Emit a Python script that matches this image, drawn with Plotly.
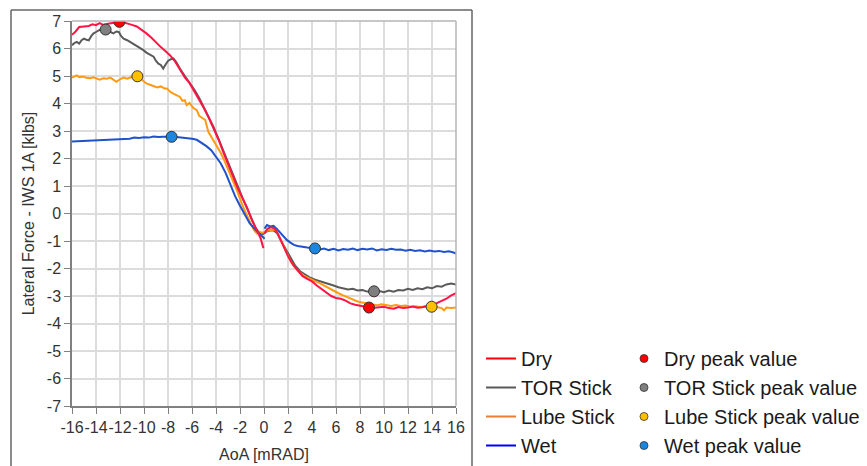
import plotly.graph_objects as go

# ---------------- data ----------------
dry_x = [-16.0, -15.7, -15.4, -15.0, -14.6, -14.3, -14.0, -13.7, -13.4, -13.0, -12.6, -12.3, -12.05,
         -11.7, -11.4, -11.0, -10.6, -10.2, -9.8, -9.4, -9.0, -8.6, -8.2, -7.8, -7.4, -7.0, -6.6, -6.2,
         -5.8, -5.4, -5.0, -4.6, -4.2, -3.8, -3.4, -3.0, -2.6, -2.2, -1.8, -1.4, -1.0, -0.6, -0.3, -0.05,
         None,
         0.05, 0.3, 0.6, 0.9, 1.2, 1.6, 2.0, 2.4, 2.8, 3.2, 3.6, 4.0, 4.4, 4.8, 5.2, 5.6, 6.0, 6.4, 6.8,
         7.2, 7.6, 8.0, 8.4, 8.75, 9.2, 9.6, 10.0, 10.4, 10.8, 11.2, 11.6, 12.0, 12.4, 12.8, 13.2, 13.6,
         14.0, 14.4, 14.8, 15.2, 15.6, 16.0]
dry_y = [6.50, 6.62, 6.78, 6.80, 6.82, 6.88, 6.85, 6.92, 6.86, 6.90, 6.92, 6.96, 6.97,
         6.95, 6.90, 6.86, 6.80, 6.68, 6.55, 6.40, 6.22, 6.05, 5.90, 5.74, 5.52, 5.22, 4.95, 4.74,
         4.45, 4.16, 3.83, 3.48, 3.10, 2.70, 2.24, 1.78, 1.34, 0.93, 0.56, 0.20, -0.25, -0.62, -0.88, -1.26,
         None,
         -0.72, -0.55, -0.50, -0.55, -0.78, -1.20, -1.55, -1.85, -2.08, -2.27, -2.38, -2.47, -2.62, -2.75,
         -2.88, -3.00, -3.07, -3.10, -3.17, -3.27, -3.32, -3.36, -3.40, -3.42, -3.43, -3.41, -3.39, -3.44,
         -3.46, -3.40, -3.44, -3.42, -3.38, -3.43, -3.41, -3.36, -3.33, -3.26, -3.19, -3.10, -2.98, -2.90]

tor_x = [-16.0, -15.8, -15.6, -15.4, -15.2, -15.0, -14.8, -14.6, -14.4, -14.2, -14.0, -13.7, -13.4,
         -13.2, -13.0, -12.8, -12.55, -12.3, -12.1, -11.9, -11.7, -11.4, -11.1, -10.9, -10.6, -10.3,
         -10.05, -9.8, -9.5, -9.2, -9.0, -8.8, -8.6, -8.4, -8.2, -8.0, -7.8, -7.55, -7.3, -7.0, -6.6,
         -6.2, -5.8, -5.4, -5.0, -4.6, -4.2, -3.8, -3.4, -3.0, -2.6, -2.2, -1.8, -1.4, -1.0, -0.7, -0.4,
         -0.1, 0.2, 0.5, 0.8, 1.1, 1.4, 1.8, 2.2, 2.6, 3.0, 3.4, 3.8, 4.2, 4.6, 5.0, 5.4, 5.8, 6.2, 6.6,
         7.0, 7.4, 7.8, 8.2, 8.6, 9.17, 9.6, 10.0, 10.4, 10.8, 11.2, 11.6, 12.0, 12.4, 12.8, 13.2, 13.6,
         14.0, 14.4, 14.8, 15.2, 15.6, 16.0]
tor_y = [6.12, 6.20, 6.24, 6.18, 6.30, 6.36, 6.32, 6.30, 6.45, 6.55, 6.60, 6.68, 6.72,
         6.69, 6.64, 6.60, 6.55, 6.62, 6.60, 6.45, 6.36, 6.30, 6.22, 6.18, 6.10, 6.02,
         5.94, 5.85, 5.78, 5.70, 5.55, 5.45, 5.40, 5.27, 5.42, 5.55, 5.60, 5.64, 5.50, 5.26, 5.00,
         4.76, 4.50, 4.20, 3.86, 3.50, 3.14, 2.72, 2.28, 1.84, 1.40, 0.98, 0.58, 0.18, -0.20, -0.52, -0.70,
         -0.75, -0.66, -0.62, -0.62, -0.72, -0.98, -1.28, -1.62, -1.90, -2.10, -2.22, -2.32, -2.40, -2.45,
         -2.50, -2.55, -2.62, -2.68, -2.72, -2.76, -2.74, -2.80, -2.78, -2.84, -2.83, -2.82, -2.86, -2.80,
         -2.84, -2.78, -2.80, -2.74, -2.78, -2.72, -2.75, -2.68, -2.72, -2.64, -2.66, -2.58, -2.55, -2.58]

lube_x = [-16.0, -15.8, -15.6, -15.4, -15.1, -14.8, -14.5, -14.2, -13.9, -13.7, -13.4, -13.1, -12.8,
          -12.5, -12.3, -12.0, -11.7, -11.4, -11.1, -10.8, -10.55, -10.3, -10.0, -9.8, -9.5, -9.2, -8.9,
          -8.6, -8.3, -8.1, -7.8, -7.55, -7.3, -7.0, -6.8, -6.6, -6.45, -6.2, -5.9, -5.6, -5.4, -5.1, -4.9,
          -4.64, -4.4, -4.2, -3.9, -3.6, -3.3, -3.0, -2.6, -2.2, -1.8, -1.4, -1.1, -0.8, -0.6, -0.4, -0.2,
          0.0, 0.3, 0.6, 0.9, 1.1, 1.4, 1.8, 2.2, 2.6, 3.0, 3.4, 3.8, 4.2, 4.6, 5.0, 5.4, 5.8, 6.2, 6.6,
          7.0, 7.4, 7.8, 8.2, 8.6, 9.0, 9.4, 9.8, 10.2, 10.6, 11.0, 11.4, 11.8, 12.2, 12.6, 13.0, 13.4,
          13.97, 14.4, 14.8, 15.0, 15.2, 15.6, 16.0]
lube_y = [4.94, 4.98, 5.02, 4.96, 4.98, 4.94, 4.92, 4.95, 4.90, 4.87, 4.92, 4.90, 4.94,
          4.85, 4.79, 4.88, 4.94, 4.90, 4.96, 5.00, 4.99, 4.90, 4.80, 4.73, 4.68, 4.62, 4.58,
          4.62, 4.55, 4.55, 4.42, 4.36, 4.30, 4.24, 4.10, 4.12, 3.94, 4.02, 3.84, 3.76, 3.55, 3.46, 3.40,
          2.97, 2.80, 2.67, 2.45, 2.20, 1.92, 1.62, 1.22, 0.78, 0.30, -0.10, -0.38, -0.62, -0.72, -0.66, -0.70,
          -0.68, -0.62, -0.60, -0.58, -0.68, -0.98, -1.35, -1.72, -1.98, -2.16, -2.28, -2.38, -2.45, -2.52,
          -2.62, -2.72, -2.82, -2.90, -2.98, -3.06, -3.14, -3.20, -3.24, -3.28, -3.31, -3.34, -3.30, -3.32,
          -3.36, -3.33, -3.36, -3.35, -3.39, -3.37, -3.40, -3.38, -3.39, -3.40, -3.44, -3.52, -3.42, -3.44, -3.42]

wet_x = [-16.0, -15.6, -15.2, -14.8, -14.4, -14.0, -13.6, -13.2, -12.8, -12.4, -12.0, -11.6, -11.2,
         -10.8, -10.4, -10.0, -9.6, -9.2, -8.8, -8.4, -8.0, -7.7, -7.3, -7.0, -6.5, -6.0, -5.6, -5.2,
         -4.8, -4.4, -4.0, -3.6, -3.2, -2.8, -2.4, -2.0, -1.6, -1.2, -0.8, -0.4, 0.05,
         None,
         0.05, 0.25, 0.5, 0.8, 1.05, 1.3, 1.6, 1.9, 2.2, 2.5, 2.8, 3.2, 3.6, 4.0, 4.25, 4.6, 5.0, 5.4,
         5.8, 6.2, 6.6, 7.0, 7.4, 7.8, 8.2, 8.6, 9.0, 9.4, 9.8, 10.2, 10.6, 11.0, 11.4, 11.8, 12.2, 12.6,
         13.0, 13.4, 13.8, 14.2, 14.6, 15.0, 15.4, 15.8, 16.0]
wet_y = [2.62, 2.63, 2.64, 2.64, 2.66, 2.65, 2.68, 2.67, 2.70, 2.69, 2.71, 2.73, 2.72,
         2.76, 2.75, 2.77, 2.76, 2.80, 2.78, 2.79, 2.80, 2.79, 2.78, 2.77, 2.75, 2.72, 2.68, 2.58,
         2.45, 2.30, 2.05, 1.82, 1.48, 1.05, 0.62, 0.28, -0.05, -0.35, -0.55, -0.74, -0.92,
         None,
         -0.55, -0.42, -0.47, -0.45, -0.55, -0.68, -0.82, -0.96, -1.06, -1.14, -1.18, -1.22, -1.24, -1.26,
         -1.27, -1.32, -1.27, -1.33, -1.28, -1.34, -1.29, -1.32, -1.27, -1.33, -1.28, -1.31, -1.27, -1.34,
         -1.30, -1.33, -1.28, -1.32, -1.31, -1.35, -1.32, -1.36, -1.34, -1.38, -1.35, -1.38, -1.36, -1.40,
         -1.37, -1.42, -1.46]

# peak values (one on each side of zero)
dry_peak_x = [-12.05, 8.75]
dry_peak_y = [6.97, -3.42]
tor_peak_x = [-13.2, 9.17]
tor_peak_y = [6.69, -2.83]
lube_peak_x = [-10.55, 13.97]
lube_peak_y = [4.99, -3.39]
wet_peak_x = [-7.7, 4.25]
wet_peak_y = [2.79, -1.27]

x_ticks = list(range(-16, 17, 2))
x_tick_text = [str(v) for v in x_ticks]
y_ticks = list(range(-7, 8, 1))
y_tick_text = [str(v) for v in y_ticks]

series_names = ["Dry", "TOR Stick", "Lube Stick", "Wet"]
line_colors = ["#ff1446", "#5a5a5a", "#ff9a12", "#1f52cc"]
legend_line_colors = ["#ff0000", "#595959", "#ed7d31", "#0000ff"]
peak_colors = ["#ff0000", "#7f7f7f", "#ffc000", "#1a86e0"]

FONT = "Liberation Sans, Arial, sans-serif"

fig = go.Figure()

lines = [(dry_x, dry_y), (tor_x, tor_y), (lube_x, lube_y), (wet_x, wet_y)]
peaks = [(dry_peak_x, dry_peak_y), (tor_peak_x, tor_peak_y),
         (lube_peak_x, lube_peak_y), (wet_peak_x, wet_peak_y)]

# drawing order: TOR, Lube, Wet, Dry (Dry on top)
for i in [1, 2, 3, 0]:
    xs, ys = lines[i]
    fig.add_trace(go.Scatter(x=xs, y=ys, mode="lines", line=dict(color=line_colors[i], width=2),
                             connectgaps=False, showlegend=False, hoverinfo="skip"))

for (xs, ys), c in zip(peaks, peak_colors):
    fig.add_trace(go.Scatter(x=xs, y=ys, mode="markers",
                             marker=dict(color=c, size=11, line=dict(color="#333333", width=1)),
                             showlegend=False))

# legend entries
for name, c in zip(series_names, legend_line_colors):
    fig.add_trace(go.Scatter(x=[None], y=[None], mode="lines", name=name,
                             line=dict(color=c, width=2), legend="legend"))
for name, c in zip(series_names, peak_colors):
    fig.add_trace(go.Scatter(x=[None], y=[None], mode="markers", name=name + " peak value",
                             marker=dict(color=c, size=8, line=dict(color="#333333", width=0.8)),
                             legend="legend2"))

L, R, T, B = 72, 411, 21, 60
W, H = 867, 466
pw, ph = W - L - R, H - T - B


def px2x(px):
    return (px - L) / pw


def px2y(py):
    return (H - B - py) / ph


fig.update_layout(
    width=W, height=H,
    margin=dict(l=L, r=R, t=T, b=B, pad=0, autoexpand=False),
    paper_bgcolor="white", plot_bgcolor="white",
    font=dict(family=FONT, size=16, color="#333333"),
    xaxis=dict(range=[-16, 16], tickvals=x_ticks, ticktext=x_tick_text, tickangle=0,
               ticks="outside", ticklen=6, automargin=False,
               tickcolor="#808080", showline=True, linecolor="#808080", linewidth=1.5,
               showgrid=True, gridcolor="#dcdcdc", gridwidth=1.5, zeroline=False,
               tickfont=dict(size=16, color="#333333"),
               title=dict(text="AoA [mRAD]", font=dict(size=16, color="#333333"), standoff=14)),
    yaxis=dict(range=[-7, 7], tickvals=y_ticks, ticktext=y_tick_text, ticks="outside", ticklen=6,
               automargin=False,
               tickcolor="#808080", showline=True, linecolor="#808080", linewidth=1.5,
               showgrid=True, gridcolor="#dcdcdc", gridwidth=1.5, zeroline=False,
               tickfont=dict(size=16, color="#333333"),
               title=dict(text="Lateral Force - IWS 1A [klbs]", font=dict(size=16, color="#333333"),
                          standoff=8)),
    legend=dict(x=px2x(481), y=px2y(339), xanchor="left", yanchor="top",
                font=dict(size=20, family=FONT, color="#1a1a1a"), bgcolor="rgba(0,0,0,0)",
                borderwidth=0),
    legend2=dict(x=px2x(624), y=px2y(339), xanchor="left", yanchor="top",
                 font=dict(size=20, family=FONT, color="#1a1a1a"), bgcolor="rgba(0,0,0,0)",
                 borderwidth=0),
    shapes=[
        # plot border (top and right)
        dict(type="line", xref="paper", yref="paper", x0=0, x1=1, y0=1, y1=1,
             line=dict(color="#b4b4b4", width=1.5)),
        dict(type="line", xref="paper", yref="paper", x0=1, x1=1, y0=0, y1=1,
             line=dict(color="#b4b4b4", width=1.5)),
        # outer frame
        dict(type="line", xref="paper", yref="paper", x0=px2x(11), x1=px2x(472),
             y0=px2y(10), y1=px2y(10), line=dict(color="#666666", width=1.5)),
        dict(type="line", xref="paper", yref="paper", x0=px2x(11), x1=px2x(11),
             y0=px2y(10), y1=px2y(480), line=dict(color="#666666", width=1.5)),
        dict(type="line", xref="paper", yref="paper", x0=px2x(472), x1=px2x(472),
             y0=px2y(10), y1=px2y(480), line=dict(color="#666666", width=1.5)),
    ],
)

fig.write_html("out.html")
